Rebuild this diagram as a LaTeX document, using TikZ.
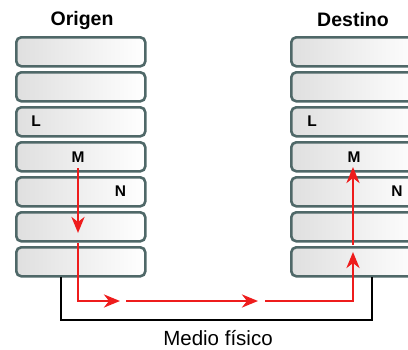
\documentclass[tikz,border=0pt]{standalone}
\usepackage{fontspec}
\setmainfont{Liberation Sans}
\usetikzlibrary{arrows.meta}
\definecolor{layeredge}{HTML}{4F6868}
\definecolor{flowred}{HTML}{EE1C1C}
\tikzset{
  layer/.style={draw=layeredge, line width=2.6pt, rounded corners=5pt,
    left color=gray!25, right color=white, minimum width=129pt,
    minimum height=29pt, inner sep=0pt, anchor=north west},
  title/.style={font=\fontsize{19.5}{22}\selectfont\bfseries},
  tag/.style={font=\fontsize{15.5}{18}\selectfont\bfseries},
  caption/.style={font=\fontsize{20.5}{24}\selectfont},
  flow/.style={draw=flowred, line width=2.8pt,
    -{Stealth[length=16pt,width=13pt,inset=5pt]}},
  medium/.style={draw=black, line width=2.2pt}
}
\begin{document}
\begin{tikzpicture}[x=1pt,y=-1pt]
\useasboundingbox (0,0) rectangle (408,349);
\clip (0,0) rectangle (408,349);

% protocol stacks
\foreach \i in {1,...,7}{
  \node[layer] (o\i) at (15,{36+35*(\i-1)}) {};
  \node[layer] (d\i) at (290,{36+35*(\i-1)}) {};
}

% headings
\node[title] (otitle) at (82,20) {Origen};
\node[title] (dtitle) at (353,20) {Destino};

% layer tags
\node[tag] (ol) at (36,121) {L};
\node[tag] (om) at (78,157) {M};
\node[tag] (on) at (120.5,191) {N};
\node[tag] (dl) at (312,121) {L};
\node[tag] (dm) at (354,157) {M};
\node[tag] (dn) at (397,191) {N};

% physical medium
\coordinate (mA) at (61,277);
\coordinate (mB) at (61,320);
\coordinate (mC) at (372,320);
\coordinate (mD) at (372,277);
\draw[medium] (mA) -- (mB) -- (mC) -- (mD);
\node[caption] (medio) at (218,338) {Medio físico};

% data flow
\coordinate (f1) at (78,168);
\coordinate (f2) at (78,233);
\coordinate (f3) at (78,243);
\coordinate (f4) at (78,301);
\coordinate (f5) at (120,301);
\coordinate (f6) at (126,301);
\coordinate (f7) at (258,301);
\coordinate (f8) at (265,301);
\coordinate (f9) at (353,301);
\coordinate (f10) at (353,252);
\coordinate (f11) at (353,245);
\coordinate (f12) at (353,167);
\draw[flow] (f1) -- (f2);
\draw[flow] (f3) -- (f4) -- (f5);
\draw[flow] (f6) -- (f7);
\draw[flow] (f8) -- (f9) -- (f10);
\draw[flow] (f11) -- (f12);
\end{tikzpicture}
\end{document}
